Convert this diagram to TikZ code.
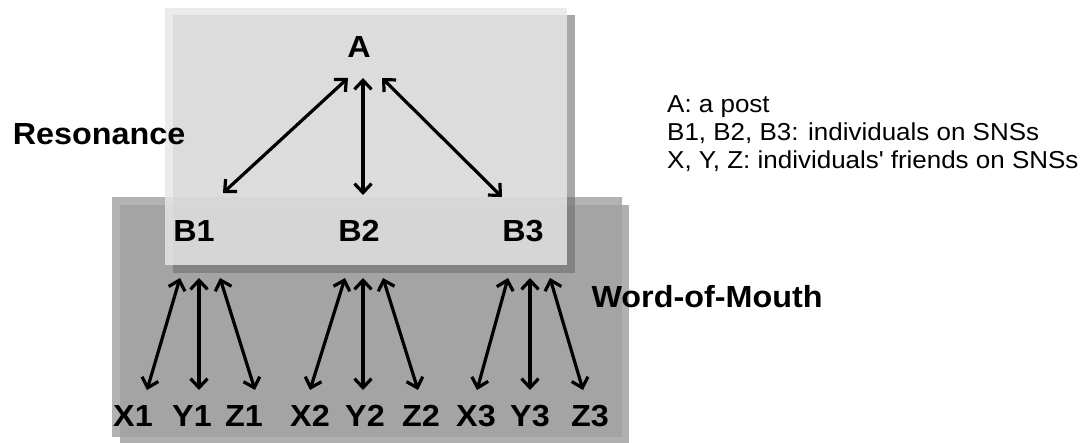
\documentclass[tikz,border=0pt]{standalone}
\usepackage{fontspec}
\setmainfont{Liberation Sans}[FakeStretch=1.06]
\usetikzlibrary{arrows.meta}
% panel tones
\definecolor{womshadow}{gray}{0.69}
\definecolor{womfill}{gray}{0.631}
\definecolor{resshadow}{gray}{0.431}
\definecolor{resfill}{gray}{0.906}
\begin{document}
\begin{tikzpicture}[x=1pt,y=-1pt,
  lbl/.style={font=\bfseries\fontsize{30.5}{31}\selectfont, inner sep=0pt,
              text height=22pt, text depth=0pt},
  legend/.style={font=\fontsize{24.5}{28}\selectfont, inner sep=0pt, anchor=base west},
  link/.style={line width=3.2pt,
               arrows={Straight Barb[length=9pt,width=17pt]-Straight Barb[length=9pt,width=17pt]}},
  ]
\useasboundingbox[fill=white] (0,0) rectangle (1087,443);

% Word-of-Mouth panel with its drop shadow
\fill[womshadow] (120,205) rectangle (629,443);
\fill[womfill, fill opacity=0.8] (112,197) rectangle (622,437);

% Resonance panel with its drop shadow
\fill[resshadow, fill opacity=0.6] (173,15) rectangle (575,273);
\fill[resfill, fill opacity=0.83] (165,8) rectangle (567,265);

% group titles
\node[lbl] (res) at (99,134) {Resonance};
\node[lbl] (wom) at (707,297) {Word-of-Mouth};

% the post and the individuals
\node[lbl] (A)  at (359,47)  {A};
\node[lbl] (B1) at (194,231) {B1};
\node[lbl] (B2) at (359,231) {B2};
\node[lbl] (B3) at (523,231) {B3};

% friends
\node[lbl] (X1) at (133,415) {X1};
\node[lbl] (Y1) at (192,415) {Y1};
\node[lbl] (Z1) at (244,415) {Z1};
\node[lbl] (X2) at (310,415) {X2};
\node[lbl] (Y2) at (365,415) {Y2};
\node[lbl] (Z2) at (421,415) {Z2};
\node[lbl] (X3) at (476,415) {X3};
\node[lbl] (Y3) at (530,415) {Y3};
\node[lbl] (Z3) at (590,415) {Z3};

% resonance links
\draw[link] ([shift={(-11,31)}]A.center) -- ([shift={(29,-38)}]B1.center);
\draw[link] ([shift={(4,31)}]A.center)   -- ([shift={(4,-36)}]B2.center);
\draw[link] ([shift={(23,31)}]A.center)  -- ([shift={(-21,-34)}]B3.center);

% word-of-mouth links
\draw[link] ([shift={(-14,47)}]B1.center) -- ([shift={(14,-25)}]X1.center);
\draw[link] ([shift={(5,47)}]B1.center)   -- ([shift={(7,-25)}]Y1.center);
\draw[link] ([shift={(26,47)}]B1.center)  -- ([shift={(11,-25)}]Z1.center);
\draw[link] ([shift={(-14,47)}]B2.center) -- ([shift={(0,-25)}]X2.center);
\draw[link] ([shift={(4,47)}]B2.center)   -- ([shift={(-2,-25)}]Y2.center);
\draw[link] ([shift={(24,47)}]B2.center)  -- ([shift={(-3,-25)}]Z2.center);
\draw[link] ([shift={(-15,47)}]B3.center) -- ([shift={(1,-25)}]X3.center);
\draw[link] ([shift={(7,47)}]B3.center)   -- ([shift={(0,-25)}]Y3.center);
\draw[link] ([shift={(27,47)}]B3.center)  -- ([shift={(-7,-25)}]Z3.center);

% legend
\node[legend] (leg1) at (667,113) {A: a post};
\node[legend] (leg2) at (667,141) {B1, B2, B3: individuals on SNSs};
\node[legend] (leg3) at (667,169) {X, Y, Z: individuals\textquotesingle{} friends on SNSs};
\end{tikzpicture}
\end{document}
